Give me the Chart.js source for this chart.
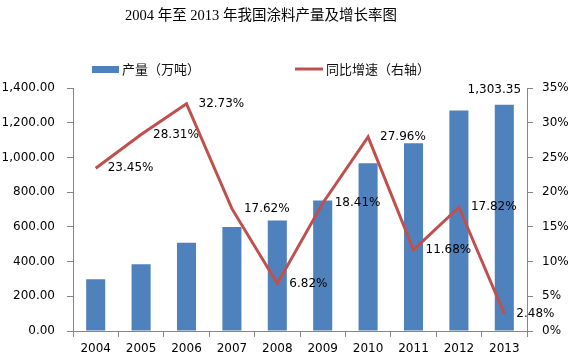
<!DOCTYPE html>
<html>
<head>
<meta charset="utf-8">
<script src="https://cdn.jsdelivr.net/npm/chart.js@4/dist/chart.umd.min.js"></script>
<style>
    html, body { margin: 0; padding: 0; background: #fff; }
    #wrap { width: 570px; height: 362px; position: relative; }
</style>
</head>
<body>
<div id="wrap"><canvas id="coatingChart" width="570" height="362"></canvas></div>
<script>
const years = ['2004', '2005', '2006', '2007', '2008', '2009', '2010', '2011', '2012', '2013'];
const output = [298, 384, 509, 599, 637, 752, 967, 1082, 1270, 1303.35];
const growth = [23.45, 28.31, 32.73, 17.62, 6.82, 18.41, 27.96, 11.68, 17.82, 2.48];
const outputTicks = [0, 200, 400, 600, 800, 1000, 1200, 1400];
const growthTicks = [0, 5, 10, 15, 20, 25, 30, 35];
const barLabelIndex = [9];

const BLUE = '#4f81bd';
const RED = '#c0504d';
const AXIS = '#868686';
const TICK_FONT = { family: 'DejaVu Sans', size: 12 };

function formatNumber(v) {
    return Number(v).toFixed(2).replace(/\d(?=(\d{3})+\.)/g, '$&,');
}

const decorPlugin = {
    id: 'decor',
    afterDatasetsDraw(chart) {
        const ctx = chart.ctx;
        ctx.save();
        ctx.fillStyle = '#000';
        ctx.font = '12px "DejaVu Sans"';
        ctx.textBaseline = 'middle';
        ctx.textAlign = 'left';
        chart.getDatasetMeta(1).data.forEach((pt, i) => {
            ctx.fillText(growth[i].toFixed(2) + '%', pt.x + 12, pt.y);
        });
        ctx.textAlign = 'center';
        const bars = chart.getDatasetMeta(0).data;
        barLabelIndex.forEach((i) => {
            ctx.fillText(formatNumber(output[i]), bars[i].x - 10, bars[i].y - 15);
        });
        ctx.restore();
    },
    afterDraw(chart) {
        const ctx = chart.ctx;
        ctx.save();
        ctx.fillStyle = '#000';
        ctx.textAlign = 'center';
        ctx.textBaseline = 'middle';
        ctx.font = '14.5px "Liberation Serif", "Noto Sans CJK SC"';
        ctx.fillText('2004 年至 2013 年我国涂料产量及增长率图', 261, 16);

        ctx.textAlign = 'left';
        ctx.font = '13px "Noto Sans CJK SC"';
        ctx.fillStyle = BLUE;
        ctx.fillRect(92, 66, 27, 7);
        ctx.fillStyle = '#111';
        ctx.fillText('产量（万吨）', 122, 69);

        ctx.strokeStyle = RED;
        ctx.lineWidth = 3;
        ctx.beginPath();
        ctx.moveTo(295, 69);
        ctx.lineTo(323, 69);
        ctx.stroke();
        ctx.fillText('同比增速（右轴）', 326, 69);
        ctx.restore();
    }
};

new Chart(document.getElementById('coatingChart').getContext('2d'), {
    type: 'bar',
    data: {
        labels: years,
        datasets: [
            {
                label: '产量（万吨）',
                data: output,
                backgroundColor: BLUE,
                barPercentage: 0.42,
                categoryPercentage: 1,
                yAxisID: 'y',
                order: 1
            },
            {
                type: 'line',
                label: '同比增速（右轴）',
                data: growth,
                borderColor: RED,
                borderWidth: 3,
                pointRadius: 0,
                tension: 0,
                yAxisID: 'y1',
                order: 0
            }
        ]
    },
    options: {
        responsive: false,
        animation: false,
        layout: { padding: { top: 88, left: 0, right: 0, bottom: 0 } },
        plugins: {
            legend: { display: false },
            title: { display: false },
            tooltip: { enabled: false }
        },
        scales: {
            x: {
                offset: true,
                grid: { offset: true, drawOnChartArea: false, tickLength: 6, color: AXIS },
                border: { color: AXIS },
                ticks: { color: '#000', font: TICK_FONT, padding: 5 },
                afterFit: (scale) => { scale.height = 31; }
            },
            y: {
                position: 'left',
                min: 0,
                max: 1400,
                afterBuildTicks: (scale) => { scale.ticks = outputTicks.map((v) => ({ value: v })); },
                grid: { drawOnChartArea: false, tickLength: 6, color: AXIS },
                border: { color: AXIS },
                ticks: { color: '#000', font: TICK_FONT, padding: 12, callback: (v) => formatNumber(v) },
                afterFit: (scale) => { scale.width = 73; }
            },
            y1: {
                position: 'right',
                min: 0,
                max: 35,
                afterBuildTicks: (scale) => { scale.ticks = growthTicks.map((v) => ({ value: v })); },
                grid: { drawOnChartArea: false, tickLength: 6, color: AXIS },
                border: { color: AXIS },
                ticks: { color: '#000', font: TICK_FONT, padding: 9, callback: (v) => v + '%' },
                afterFit: (scale) => { scale.width = 43; }
            }
        }
    },
    plugins: [decorPlugin]
});
</script>
</body>
</html>
